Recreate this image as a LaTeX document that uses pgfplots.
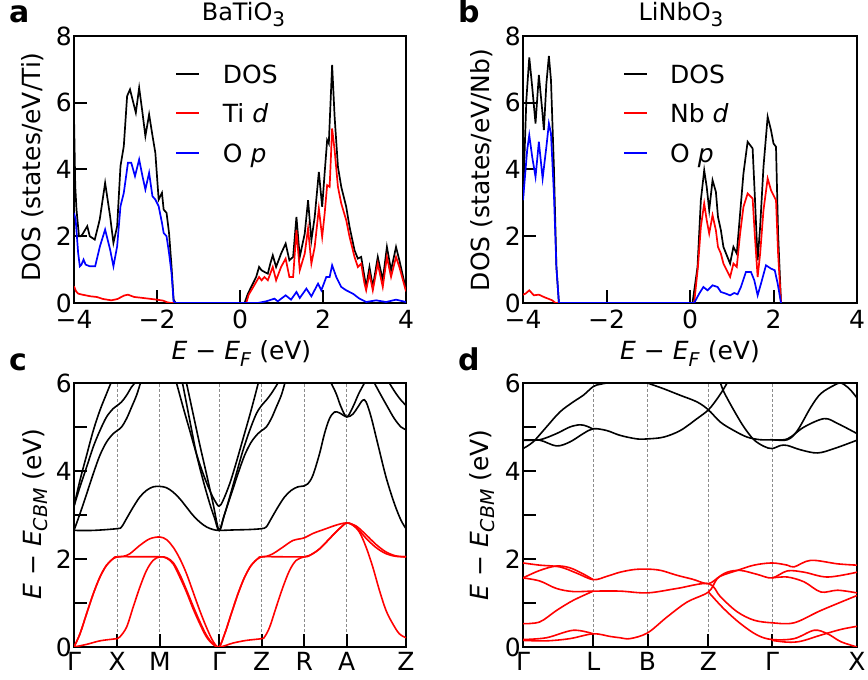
\documentclass[border=0pt]{standalone}
\usepackage{fontspec}
\setmainfont{DejaVu Sans}
\usepackage{pgfplots}
\pgfplotsset{compat=1.18}
\newcommand\fs{\fontsize{25}{30}\selectfont}
\newcommand\sub[1]{\raisebox{-0.25em}{\fontsize{19}{22}\selectfont #1}}
\newcommand\tsub[1]{\raisebox{-0.26em}{\fontsize{20}{24}\selectfont #1}}
\pgfplotsset{
  panel/.style={
    scale only axis,
    axis line style={line width=2.4pt},
    tick align=inside,
    tick pos=left,
    major tick length=13pt,
    tick style={line width=2pt, black},
    tick label style={font=\fs},
    yticklabel style={inner sep=2pt},
  },
  dos/.style={panel, height=267pt, xmin=-4, xmax=4, ymin=0, ymax=8,
    xtick={-4,-2,0,2,4}, xticklabels={−4,−2,0,2,4},
    ytick={0,2,4,6,8}, yticklabels={0,2,4,6,8},
    xticklabel style={inner sep=7pt},
  },
  bands/.style={panel, height=264pt, ymin=0, ymax=6,
    ytick={0,1,2,3,4,5,6}, yticklabels={0,,2,,4,,6},
    xmajorgrids, major grid style={dash pattern=on 3pt off 2pt, black!45, line width=0.8pt},
    xticklabel style={inner sep=5pt},
  },
  dl/.style={line width=1.7pt},
  bl/.style={line width=1.6pt, smooth, tension=0.55},
}
\begin{document}
\begin{tikzpicture}
\useasboundingbox (0pt,0pt) rectangle (868pt,680pt);

% ---------- panel a ----------
\begin{axis}[dos, at={(74pt,377pt)}, anchor=south west, width=332pt]
\addplot[dl, color=black] coordinates {
(-4.00,5.6) (-3.97,3.5) (-3.94,2.8) (-3.91,2.4) (-3.88,2.0) (-3.84,2.0) (-3.80,2.05)
(-3.68,2.3) (-3.62,2.0) (-3.50,1.9) (-3.38,2.5) (-3.25,3.6) (-3.13,2.6) (-3.05,1.8)
(-2.96,2.3) (-2.88,4.1) (-2.80,4.7) (-2.72,6.2) (-2.65,6.4) (-2.59,6.1) (-2.51,5.7)
(-2.43,6.45) (-2.35,5.7) (-2.28,5.0) (-2.19,5.65) (-2.12,5.1) (-2.04,4.5) (-1.96,3.1)
(-1.88,3.3) (-1.84,2.8) (-1.77,2.7) (-1.71,2.1) (-1.65,1.1) (-1.60,0.1) (-1.55,0)
(0.11,0) (0.19,0.28) (0.31,0.58) (0.39,0.78) (0.46,1.08) (0.52,0.98) (0.59,0.93)
(0.67,0.88) (0.73,1.18) (0.79,1.43) (0.87,1.08) (0.99,1.48) (1.10,1.78) (1.19,1.28)
(1.28,1.38) (1.36,2.58) (1.44,1.38) (1.56,2.08) (1.64,3.08) (1.72,1.88) (1.80,2.58)
(1.90,3.93) (1.98,2.88) (2.04,3.9) (2.10,4.88) (2.14,4.78) (2.22,7.13) (2.28,5.58)
(2.36,4.08) (2.44,3.48) (2.56,2.88) (2.64,2.28) (2.76,1.58) (2.84,1.33) (2.92,1.38)
(3.00,0.78) (3.04,0.48) (3.12,1.08) (3.20,0.48) (3.32,1.38) (3.44,0.68) (3.54,1.68)
(3.64,0.98) (3.76,1.68) (3.84,1.28) (4.00,0.40)};
\addplot[dl, color=red] coordinates {
(-4.00,0.5) (-3.95,0.35) (-3.90,0.28) (-3.80,0.25) (-3.60,0.2) (-3.45,0.18) (-3.30,0.12)
(-3.10,0.08) (-2.95,0.12) (-2.80,0.22) (-2.70,0.25) (-2.55,0.18) (-2.40,0.16) (-2.20,0.13)
(-2.00,0.10) (-1.85,0.07) (-1.75,0.02) (-1.65,0)
(0.15,0) (0.21,0.25) (0.32,0.48) (0.46,0.78) (0.52,0.68) (0.59,0.78) (0.67,0.68)
(0.79,1.08) (0.87,0.68) (0.99,1.08) (1.10,1.33) (1.19,0.78) (1.28,0.78) (1.36,2.18)
(1.44,0.98) (1.56,1.48) (1.64,2.23) (1.72,1.18) (1.80,1.68) (1.90,2.83) (1.98,1.98)
(2.04,2.68) (2.10,3.53) (2.16,3.48) (2.22,5.23) (2.28,4.58) (2.36,3.48) (2.44,2.98)
(2.56,2.48) (2.64,1.98) (2.76,1.38) (2.84,1.08) (2.92,1.18) (3.00,0.58) (3.04,0.38)
(3.12,0.88) (3.20,0.38) (3.32,1.18) (3.44,0.48) (3.54,1.38) (3.64,0.78) (3.76,1.38)
(3.84,1.08) (4.00,0.35)};
\addplot[dl, color=blue] coordinates {
(-4.00,2.7) (-3.96,2.5) (-3.90,1.5) (-3.86,1.1) (-3.82,1.15) (-3.77,1.3) (-3.72,1.15)
(-3.62,1.1) (-3.49,1.1) (-3.375,1.7) (-3.25,2.2) (-3.13,1.6) (-3.05,1.1) (-2.96,1.7)
(-2.88,2.9) (-2.80,3.3) (-2.70,4.2) (-2.62,4.2) (-2.53,3.8) (-2.43,4.3) (-2.35,3.8)
(-2.28,3.4) (-2.19,3.9) (-2.11,3.2) (-2.04,3.1) (-1.96,2.9) (-1.88,2.4) (-1.84,2.1)
(-1.77,2.0) (-1.71,1.5) (-1.65,0.9) (-1.60,0.05) (-1.55,0)
(0.43,0) (0.63,0.05) (0.83,0.13) (0.91,0.05) (1.10,0.23) (1.23,0.10) (1.36,0.33)
(1.44,0.15) (1.60,0.43) (1.72,0.20) (1.88,0.58) (1.96,0.38) (2.08,0.78) (2.16,0.78)
(2.22,1.13) (2.32,0.78) (2.44,0.48) (2.56,0.38) (2.72,0.28) (2.88,0.13) (3.04,0.03)
(3.28,0.08) (3.52,0.03) (3.76,0.10) (4.00,0.03)};
\end{axis}

% ---------- panel b ----------
\begin{axis}[dos, at={(523pt,377pt)}, anchor=south west, width=334pt]
\addplot[dl, color=black] coordinates {
(-4.00,3.08) (-3.92,6.08) (-3.85,7.36) (-3.78,6.48) (-3.70,5.38) (-3.62,6.83) (-3.54,5.78)
(-3.50,5.18) (-3.44,6.58) (-3.38,7.40) (-3.33,6.68) (-3.26,4.08) (-3.20,1.08) (-3.14,0)
(0.06,0) (0.18,1.08) (0.26,3.08) (0.34,3.98) (0.40,3.48) (0.46,2.78) (0.54,3.68)
(0.62,3.33) (0.67,2.58) (0.74,2.18) (0.80,1.68) (0.88,1.43) (0.96,1.18) (1.04,1.68)
(1.12,1.48) (1.20,2.68) (1.28,3.88) (1.38,4.83) (1.50,4.63) (1.55,3.28) (1.62,1.28)
(1.68,2.28) (1.76,4.08) (1.86,5.58) (1.94,5.18) (2.00,4.78) (2.06,4.68) (2.11,2.08)
(2.18,0) (4.00,0)};
\addplot[dl, color=red] coordinates {
(-4.00,0.25) (-3.94,0.28) (-3.85,0.38) (-3.74,0.23) (-3.62,0.25) (-3.50,0.18) (-3.30,0.08)
(-3.22,0) (0.10,0) (0.19,1.08) (0.26,2.28) (0.34,2.98) (0.40,2.48) (0.46,2.08)
(0.54,2.63) (0.62,2.18) (0.67,1.68) (0.74,1.48) (0.80,1.18) (0.88,0.98) (0.96,0.78)
(1.04,1.18) (1.12,1.08) (1.20,2.08) (1.28,2.88) (1.38,3.28) (1.50,3.13) (1.55,2.08)
(1.62,0.78) (1.68,1.48) (1.76,2.78) (1.86,3.73) (1.94,3.38) (2.00,3.23) (2.06,3.08)
(2.11,1.48) (2.18,0)};
\addplot[dl, color=blue] coordinates {
(-4.00,3.08) (-3.90,4.58) (-3.85,5.03) (-3.78,4.38) (-3.70,3.78) (-3.62,4.83) (-3.53,3.73)
(-3.44,4.68) (-3.38,5.38) (-3.33,5.08) (-3.26,3.28) (-3.20,1.08) (-3.14,0)
(0.10,0) (0.22,0.28) (0.32,0.48) (0.42,0.38) (0.54,0.53) (0.66,0.48) (0.74,0.33)
(0.86,0.28) (0.96,0.23) (1.06,0.30) (1.14,0.26) (1.22,0.48) (1.34,0.93) (1.46,0.93)
(1.54,0.68) (1.62,0.23) (1.70,0.58) (1.82,1.13) (1.94,1.03) (2.03,0.98) (2.10,0.58)
(2.18,0)};
\end{axis}

% ---------- panel c ----------
\begin{axis}[bands, at={(74pt,33pt)}, anchor=south west, width=332pt,
  xmin=222, xmax=1220,
  xtick={222,352,480,658,786,914,1042,1220},
  xticklabels={Γ,X,M,Γ,Z,R,A,Z}]
\addplot[bl, red] coordinates {
(222,0) (260,0.06) (300,0.14) (340,0.18) (352,0.19) (360,0.23) (380,0.45) (400,0.91)
(420,1.36) (440,1.74) (460,1.97) (480,2.05) (500,2.02) (520,1.89) (540,1.59) (560,1.25)
(580,0.87) (600,0.53) (620,0.23) (640,0.06) (658,0) (680,0.04) (700,0.09) (740,0.15)
(786,0.19) (795,0.23) (810,0.45) (830,0.91) (850,1.36) (870,1.74) (890,1.97) (914,2.05)
(930,2.08) (960,2.23) (1000,2.54) (1020,2.69) (1042,2.82) (1060,2.77) (1080,2.61)
(1100,2.27) (1120,1.82) (1140,1.29) (1160,0.83) (1180,0.53) (1200,0.30) (1220,0.21)};
\addplot[bl, red] coordinates {
(222,0) (240,0.30) (260,0.76) (280,1.21) (300,1.59) (320,1.86) (340,2.01) (352,2.05)
(370,2.06) (390,2.12) (420,2.31) (450,2.46) (480,2.50) (500,2.44) (520,2.27) (540,2.01)
(560,1.67) (580,1.25) (600,0.83) (620,0.45) (640,0.13) (658,0) (675,0.30) (695,0.76)
(715,1.21) (735,1.59) (755,1.86) (775,2.01) (786,2.05) (800,2.06) (820,2.12) (850,2.27)
(880,2.42) (914,2.48) (940,2.58) (980,2.69) (1010,2.77) (1042,2.82) (1070,2.75)
(1100,2.55) (1130,2.33) (1160,2.16) (1190,2.07) (1220,2.05)};
\addplot[bl, red] coordinates {
(222,0) (240,0.30) (260,0.76) (280,1.21) (300,1.59) (320,1.86) (340,2.01) (352,2.05)
(420,2.05) (480,2.05) (500,2.03) (520,1.92) (540,1.65) (560,1.30) (580,0.93) (600,0.58)
(620,0.27) (640,0.07) (658,0) (675,0.30) (695,0.76) (715,1.21) (735,1.59) (755,1.86)
(775,2.01) (786,2.05) (850,2.05) (914,2.05) (930,2.08) (960,2.23) (1000,2.54)
(1020,2.69) (1042,2.82) (1070,2.72) (1100,2.47) (1130,2.26) (1160,2.12) (1190,2.06)
(1220,2.05)};
\addplot[bl, black] coordinates {
(222,2.65) (280,2.65) (352,2.69) (365,2.73) (380,2.92) (400,3.18) (420,3.41) (440,3.56)
(460,3.64) (480,3.65) (500,3.62) (520,3.52) (540,3.37) (560,3.18) (580,2.99) (600,2.84)
(620,2.73) (640,2.67) (658,2.65) (700,2.66) (750,2.67) (786,2.69) (800,2.73) (815,2.92)
(835,3.18) (855,3.41) (875,3.56) (895,3.64) (914,3.66) (925,3.71) (940,3.90) (960,4.39)
(975,4.85) (990,5.19) (1005,5.34) (1020,5.32) (1042,5.23) (1060,5.29) (1075,5.45)
(1090,5.61) (1100,5.57) (1115,5.23) (1135,4.62) (1160,3.86) (1185,3.26) (1205,2.88)
(1220,2.69)};
\addplot[bl, black] coordinates {
(222,2.65) (240,3.03) (260,3.48) (280,3.94) (300,4.36) (320,4.66) (340,4.85) (352,4.92)
(365,5.0) (380,5.19) (395,5.45) (410,5.72) (422,6.0) (428,6.1)};
\addplot[bl, black] coordinates {
(222,3.20) (240,3.64) (260,4.09) (280,4.55) (300,4.92) (320,5.23) (340,5.42) (352,5.49)
(365,5.57) (380,5.72) (395,5.91) (405,6.0) (412,6.1)};
\addplot[bl, black] coordinates {
(222,3.20) (240,3.79) (260,4.36) (280,4.92) (300,5.38) (320,5.76) (333,6.0) (340,6.1)};
\addplot[bl, black] coordinates {
(525,6.1) (530,6.0) (550,5.45) (570,4.92) (590,4.39) (610,3.94) (630,3.56) (645,3.33)
(658,3.20) (670,3.33) (690,3.71) (710,4.20) (730,4.73) (750,5.26) (765,5.68) (776,6.0)
(780,6.1)};
\addplot[bl, black] coordinates {
(543,6.1) (548,6.0) (570,5.15) (590,4.39) (610,3.79) (630,3.26) (645,2.92) (658,2.65)
(675,3.03) (695,3.48) (715,3.94) (735,4.36) (755,4.66) (775,4.85) (786,4.92) (800,5.0)
(815,5.19) (830,5.45) (845,5.72) (856,6.0) (860,6.1)};
\addplot[bl, black] coordinates {
(556,6.1) (560,6.0) (580,5.30) (600,4.60) (620,3.94) (640,3.26) (658,2.65) (672,2.95)
(690,3.41) (710,3.94) (730,4.47) (750,4.92) (770,5.30) (786,5.49) (800,5.61) (815,5.76)
(835,6.0) (840,6.1)};
\addplot[bl, black] coordinates {
(990,6.1) (995,6.0) (1010,5.76) (1025,5.45) (1042,5.23) (1060,5.45) (1078,5.76)
(1095,6.0) (1100,6.1)};
\addplot[bl, black] coordinates {
(1165,6.1) (1170,6.0) (1190,5.76) (1205,5.61) (1220,5.49)};
\addplot[bl, black] coordinates {
(1120,6.1) (1125,6.0) (1145,5.72) (1165,5.45) (1185,5.19) (1205,5.0) (1220,4.94)};
\end{axis}

% ---------- panel d ----------
\begin{axis}[bands, at={(523pt,33pt)}, anchor=south west, width=334pt,
  xmin=268, xmax=1266,
  xtick={268,478,640,822,1012,1266},
  xticklabels={Γ,L,B,Z,Γ,X}]
\addplot[bl, red] coordinates {
(268,1.91) (318,1.86) (378,1.82) (428,1.68) (478,1.53) (520,1.61) (558,1.70) (600,1.76)
(640,1.77) (680,1.74) (728,1.63) (775,1.54) (822,1.44) (858,1.61) (908,1.74) (958,1.86)
(1012,1.91) (1058,1.86) (1078,1.82) (1128,1.97) (1208,1.89) (1266,1.86)};
\addplot[bl, red] coordinates {
(268,1.57) (318,1.74) (368,1.84) (408,1.80) (448,1.66) (478,1.53)};
\addplot[bl, red] coordinates {
(268,1.57) (318,1.50) (368,1.33) (418,1.26) (478,1.27) (558,1.27) (640,1.23) (728,1.33)
(822,1.44) (858,1.14) (908,0.80) (958,0.61) (1012,0.55) (1078,0.55) (1158,0.83)
(1266,1.17)};
\addplot[bl, red] coordinates {
(268,0.53) (318,0.57) (368,0.83) (418,1.06) (478,1.27)};
\addplot[bl, red] coordinates {
(268,0.17) (338,0.21) (418,0.38) (478,0.30)};
\addplot[bl, red] coordinates {
(268,0.15) (338,0.14) (408,0.19) (478,0.30) (528,0.24) (558,0.21) (588,0.19) (640,0.32)
(698,0.68) (758,1.02) (822,1.25) (848,1.55) (878,1.70) (918,1.74) (968,1.65) (1012,1.57)
(1058,1.73) (1108,1.70) (1178,1.59) (1266,1.70)};
\addplot[bl, red] coordinates {
(822,1.25) (868,0.87) (918,0.53) (968,0.27) (1012,0.17) (1078,0.19) (1138,0.38)
(1178,0.30) (1218,0.12) (1266,0.0)};
\addplot[bl, red] coordinates {
(1012,1.57) (1058,1.59) (1108,1.48) (1158,1.25) (1208,1.29) (1266,1.23)};
\addplot[bl, red] coordinates {
(1012,0.15) (1058,0.11) (1098,0.13) (1158,0.27) (1218,0.40) (1266,0.47)};
\addplot[bl, black] coordinates {
(268,4.51) (298,4.66) (338,5.0) (378,5.34) (418,5.57) (448,5.72) (478,5.92) (498,5.97)
(518,6.0) (540,6.03)};
\addplot[bl, black] coordinates {
(268,4.70) (318,4.70) (368,4.57) (408,4.66) (448,4.85) (478,4.96) (518,4.92) (558,4.81)
(608,4.73) (640,4.73) (688,4.77) (738,4.92) (788,5.19) (822,5.39) (848,5.64) (868,5.87)
(878,6.0) (885,6.06)};
\addplot[bl, black] coordinates {
(268,4.70) (318,4.71) (368,4.85) (408,5.0) (438,5.05) (458,5.02) (478,4.95)};
\addplot[bl, black] coordinates {
(620,6.06) (640,6.0) (688,5.87) (738,5.72) (788,5.57) (822,5.39) (858,5.11) (898,4.92)
(938,4.77) (978,4.71) (1012,4.71) (1058,4.71) (1088,4.92) (1128,5.45) (1158,5.76)
(1198,5.95) (1218,6.0) (1243,5.87) (1266,5.66)};
\addplot[bl, black] coordinates {
(852,6.06) (858,6.0) (868,5.80) (898,5.38) (928,5.0) (958,4.71) (988,4.56) (1012,4.51)
(1038,4.58) (1058,4.58) (1098,4.48) (1148,4.41) (1198,4.51) (1266,4.70)};
\addplot[bl, black] coordinates {
(1012,4.71) (1058,4.73) (1108,5.0) (1168,5.19) (1208,5.08) (1266,4.85)};
\end{axis}

% ---------- legends (drawn keys) ----------
\draw[black, line width=1.7pt] (176pt,606pt) -- (199pt,606pt);
\draw[red,   line width=1.7pt] (176pt,566.7pt) -- (199pt,566.7pt);
\draw[blue,  line width=1.7pt] (176pt,526.7pt) -- (199pt,526.7pt);
\node[font=\fs, anchor=base west, inner sep=0pt] at (222.7pt,596.7pt) {DOS};
\node[font=\fs, anchor=base west, inner sep=0pt] at (222.7pt,557pt) {Ti \textit{d}};
\node[font=\fs, anchor=base west, inner sep=0pt] at (222.7pt,517.3pt) {O \textit{p}};
\draw[black, line width=1.7pt] (624pt,606pt) -- (647pt,606pt);
\draw[red,   line width=1.7pt] (624pt,566.7pt) -- (647pt,566.7pt);
\draw[blue,  line width=1.7pt] (624pt,526.7pt) -- (647pt,526.7pt);
\node[font=\fs, anchor=base west, inner sep=0pt] at (670pt,596.7pt) {DOS};
\node[font=\fs, anchor=base west, inner sep=0pt] at (670pt,557pt) {Nb \textit{d}};
\node[font=\fs, anchor=base west, inner sep=0pt] at (670pt,517.3pt) {O \textit{p}};

% ---------- texts ----------
\node[font=\fontsize{30}{36}\selectfont\bfseries, anchor=base west, inner sep=0pt] at (9pt,657.3pt) {a};
\node[font=\fontsize{30}{36}\selectfont\bfseries, anchor=base west, inner sep=0pt] at (458pt,657.3pt) {b};
\node[font=\fontsize{30}{36}\selectfont\bfseries, anchor=base west, inner sep=0pt] at (9pt,309.3pt) {c};
\node[font=\fontsize{30}{36}\selectfont\bfseries, anchor=base west, inner sep=0pt] at (458pt,309.3pt) {d};
\node[font=\fontsize{24}{28}\selectfont, anchor=base, inner sep=0pt] at (243.5pt,659.3pt) {BaTiO\tsub{3}};
\node[font=\fontsize{24}{28}\selectfont, anchor=base, inner sep=0pt] at (681pt,659.3pt) {LiNbO\tsub{3}};
\node[font=\fs, anchor=base, inner sep=0pt] at (241.5pt,320pt) {\textit{E} − \textit{E}\sub{\textit{F}} (eV)};
\node[font=\fs, anchor=base, inner sep=0pt] at (690pt,320pt) {\textit{E} − \textit{E}\sub{\textit{F}} (eV)};
\node[font=\fs, rotate=90, anchor=base, inner sep=0pt] at (40.7pt,513pt) {DOS (states/eV/Ti)};
\node[font=\fs, rotate=90, anchor=base, inner sep=0pt] at (489.7pt,510pt) {DOS (states/eV/Nb)};
\node[font=\fs, rotate=90, anchor=base, inner sep=0pt] at (41pt,166pt) {\textit{E} − \textit{E}\sub{\textit{CBM}} (eV)};
\node[font=\fs, rotate=90, anchor=base, inner sep=0pt] at (488pt,165pt) {\textit{E} − \textit{E}\sub{\textit{CBM}} (eV)};
\end{tikzpicture}
\end{document}
